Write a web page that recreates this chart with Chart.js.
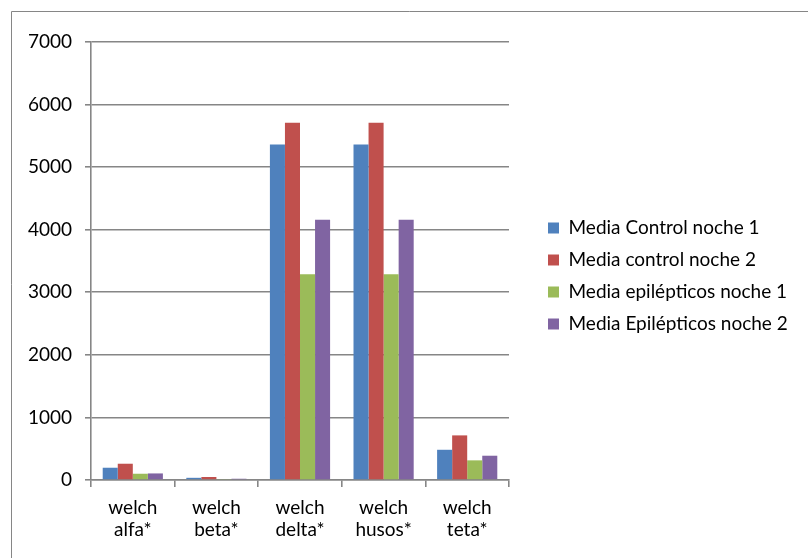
<!DOCTYPE html>
<html><head><meta charset="utf-8">
<script src="https://cdn.jsdelivr.net/npm/chart.js@4/dist/chart.umd.min.js"></script>
<style>html,body{margin:0;padding:0;background:#fff}</style>
</head><body>
<canvas id="c" width="808" height="558"></canvas>
<script>
const categories = [['welch','alfa*'],['welch','beta*'],['welch','delta*'],['welch','husos*'],['welch','teta*']];
const seriesNames = ['Media Control noche 1','Media control noche 2','Media epilépticos noche 1','Media Epilépticos noche 2'];
const controlNoche1 = [196, 35, 5360, 5360, 483];
const controlNoche2 = [260, 48, 5710, 5710, 713];
const epilepticosNoche1 = [100, 15, 3290, 3290, 314];
const epilepticosNoche2 = [105, 20, 4160, 4160, 388];
const yTickValues = [0, 1000, 2000, 3000, 4000, 5000, 6000, 7000];
const seriesColors = ['#4F81BD', '#C0504D', '#9BBB59', '#8064A2'];

const FONT = {family: 'Lato', size: 19};
const GRID = '#868686';
const PLOT_LEFT = 91, PLOT_RIGHT = 509, PLOT_TOP = 42, PLOT_BOTTOM = 480;

const borderPlugin = {
  id: 'frame',
  beforeDraw(chart) {
    const ctx = chart.ctx;
    ctx.save();
    ctx.strokeStyle = GRID; ctx.lineWidth = 1;
    ctx.beginPath();
    ctx.moveTo(11.5, 558); ctx.lineTo(11.5, 11.5); ctx.lineTo(808, 11.5);
    ctx.stroke();
    ctx.restore();
  }
};
const legendPlace = {
  id: 'legendPlace',
  beforeLayout(chart) {
    const lg = chart.legend;
    if (lg && !lg._patched) {
      const f = lg.fit.bind(lg);
      lg.fit = function () { f(); this.width = chart.width - PLOT_RIGHT; };
      lg._patched = true;
    }
  },
  afterLayout(chart) {
    const lg = chart.legend;
    lg.left += 26; lg.right += 26;
    lg.top -= 24; lg.bottom -= 24;
  }
};

const datasets = [controlNoche1, controlNoche2, epilepticosNoche1, epilepticosNoche2].map((d, i) => ({
  label: seriesNames[i], data: d, backgroundColor: seriesColors[i], borderWidth: 0,
  categoryPercentage: 0.72, barPercentage: 1.0
}));

new Chart(document.getElementById('c'), {
  type: 'bar',
  data: {labels: categories, datasets},
  options: {
    responsive: false, devicePixelRatio: 1, animation: false,
    layout: {padding: {top: PLOT_TOP, left: 0, right: 0, bottom: 0}},
    plugins: {
      legend: {
        position: 'right', align: 'center',
        labels: {boxWidth: 11, boxHeight: 11, padding: 13, font: FONT, color: '#000'}
      },
      tooltip: {enabled: false}
    },
    scales: {
      x: {
        grid: {display: true, drawOnChartArea: false, drawTicks: true, tickLength: 7, color: GRID, lineWidth: 1.6, offset: true},
        border: {color: GRID, width: 1.6},
        ticks: {font: {family: 'Lato', size: 19, lineHeight: 1.2}, color: '#000', padding: 9, maxRotation: 0, autoSkip: false},
        afterFit(s) { s.height = 558 - PLOT_BOTTOM; }
      },
      y: {
        min: 0, max: 7000,
        afterBuildTicks(s) { s.ticks = yTickValues.map(v => ({value: v})); },
        grid: {color: GRID, tickLength: 6, lineWidth: 1.6},
        border: {color: GRID, width: 1.6},
        ticks: {font: FONT, color: '#000', padding: 13, callback: v => String(v)},
        afterFit(s) { s.width = PLOT_LEFT; }
      }
    }
  },
  plugins: [borderPlugin, legendPlace]
});
</script>
</body></html>
